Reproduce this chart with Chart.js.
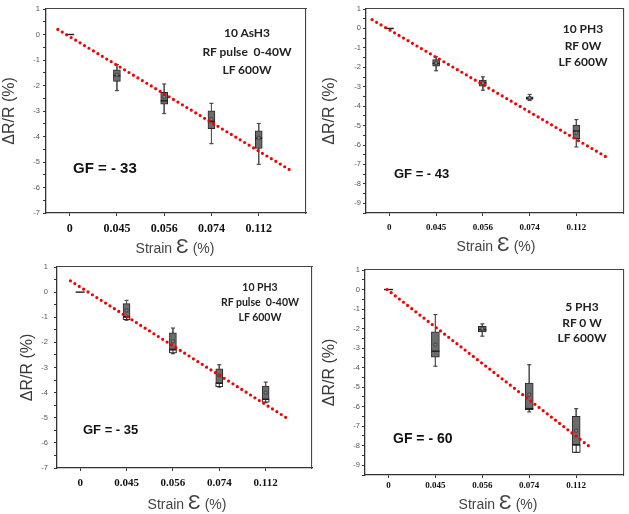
<!DOCTYPE html>
<html>
<head>
<meta charset="utf-8">
<script src="https://cdn.jsdelivr.net/npm/chart.js@4.4.1/dist/chart.umd.min.js"></script>
<style>
  body { margin: 0; background: #fff; }
  #fig { position: relative; width: 629px; height: 514px; overflow: hidden; }
  #fig canvas { position: absolute; }
  .note { position: absolute; font-family: Lato, 'Open Sans', sans-serif; font-weight: 700; color: #222; text-align: center; white-space: nowrap; transform: translateX(-50%); }
  .gf { position: absolute; font-family: 'Liberation Sans', Arial, sans-serif; font-weight: 700; color: #111; white-space: nowrap; transform: translateY(-50%); }
  .xt { position: absolute; font-family: 'Liberation Sans', Arial, sans-serif; font-size: 14px; color: #444; white-space: nowrap; transform: translate(-50%, -50%); }
  .xt span { font-size: 21px; }
</style>
</head>
<body>
<div id="fig">
  <canvas id="c1" width="320" height="255" style="left:0;top:0"></canvas>
  <canvas id="c2" width="309" height="255" style="left:320px;top:0"></canvas>
  <canvas id="c3" width="320" height="259" style="left:0;top:255px"></canvas>
  <canvas id="c4" width="309" height="259" style="left:320px;top:255px"></canvas>

  <div class="note" style="left:247px;top:24px;font-size:12px;line-height:18.5px">10 AsH3<br>RF pulse&nbsp; 0-40W<br>LF 600W</div>
  <div class="note" style="left:583px;top:21px;font-size:12px;line-height:16.5px">10 PH3<br>RF 0W<br>LF 600W</div>
  <div class="note" style="left:260px;top:280px;font-size:10.5px;line-height:15px">10 PH3<br>RF pulse&nbsp; 0-40W<br>LF 600W</div>
  <div class="note" style="left:582px;top:299px;font-size:12px;line-height:15.5px">5 PH3<br>RF 0 W<br>LF 600W</div>

  <div class="gf" style="left:73px;top:167px;font-size:15px">GF = - 33</div>
  <div class="gf" style="left:394px;top:173px;font-size:13px">GF = - 43</div>
  <div class="gf" style="left:83px;top:429px;font-size:13px">GF = - 35</div>
  <div class="gf" style="left:393px;top:438px;font-size:14px">GF = - 60</div>

  <div class="xt" style="left:175px;top:246px">Strain <span>Ɛ</span> (%)</div>
  <div class="xt" style="left:496px;top:244px">Strain <span>Ɛ</span> (%)</div>
  <div class="xt" style="left:187px;top:502px">Strain <span>Ɛ</span> (%)</div>
  <div class="xt" style="left:498px;top:502px">Strain <span>Ɛ</span> (%)</div>
</div>
<script>
// categories shared by all four panels
var strainLabels = ['0', '0.045', '0.056', '0.074', '0.112'];
var strainPos = [0, 1, 2, 3, 4];

var yTicksSeven = [1, 0, -1, -2, -3, -4, -5, -6, -7];
var yTicksNine = [1, 0, -1, -2, -3, -4, -5, -6, -7, -8, -9];

// 10 AsH3, RF pulse 0-40W
var ashWhiskHi = [0, -1.18, -1.94, -2.70, -3.49];
var ashBoxHi   = [0, -1.39, -2.27, -2.99, -3.78];
var ashMedian  = [0, -1.61, -2.60, -3.41, -4.07];
var ashMean    = [null, -1.58, -2.45, -3.32, -4.05];
var ashBoxLo   = [0, -1.84, -2.73, -3.69, -4.47];
var ashWhiskLo = [0, -2.20, -3.10, -4.28, -5.09];
var ashFitX = [-0.25, 4.65];
var ashFitY = [0.2, -5.3];

// 10 PH3, RF 0W
var ph0WhiskHi = [0, -1.46, -2.49, -3.40, -4.69];
var ph0BoxHi   = [0, -1.60, -2.66, -3.52, -4.98];
var ph0Median  = [0, -1.80, -2.80, -3.60, -5.28];
var ph0Mean    = [null, -1.78, -2.82, -3.58, -5.38];
var ph0BoxLo   = [0, -1.94, -2.97, -3.66, -5.67];
var ph0WhiskLo = [0, -2.18, -3.18, -3.71, -6.10];
var ph0FitX = [-0.37, 4.63];
var ph0FitY = [0.45, -6.6];

// 10 PH3, RF pulse 0-40W
var phpWhiskHi = [0, -0.33, -1.43, -2.89, -3.58];
var phpBoxHi   = [0, -0.46, -1.62, -3.05, -3.74];
var phpMedian  = [0, -0.98, -2.28, -3.62, -4.26];
var phpMean    = [null, -0.73, -1.96, -3.32, -4.00];
var phpLowTop  = [null, -0.99, -2.30, -3.63, -4.27];
var phpBoxLo   = [0, -1.10, -2.42, -3.76, -4.38];
var phpWhiskLo = [0, -1.12, -2.45, -3.78, -4.40];
var phpFitX = [-0.21, 4.49];
var phpFitY = [0.45, -5.05];

// 5 PH3, RF 0 W
var ph5WhiskHi = [0, -1.28, -1.76, -3.85, -6.10];
var ph5BoxHi   = [0, -2.17, -1.88, -4.79, -6.50];
var ph5Median  = [0, -3.16, -2.05, -6.10, -7.95];
var ph5Mean    = [null, -2.82, -2.00, -5.38, -7.23];
var ph5LowTop  = [null, null, null, null, -7.95];
var ph5BoxLo   = [0, -3.47, -2.17, -6.15, -8.34];
var ph5WhiskLo = [0, -3.93, -2.39, -6.27, -8.34];
var ph5FitX = [-0.03, 4.34];
var ph5FitY = [0.0, -8.15];

var panels = [
    { id: 'c1', whiskHi: ashWhiskHi, boxHi: ashBoxHi, median: ashMedian, mean: ashMean, lowTop: null, boxLo: ashBoxLo, whiskLo: ashWhiskLo,
      fitX: ashFitX, fitY: ashFitY, yMin: -7, yTicks: yTicksSeven,
      padTop: 9, padRight: 14, yW: 46, xH: 42, boxW: 7, xFont: 12, xPad: 6, yPad: 3, titlePad: 0 },
    { id: 'c2', whiskHi: ph0WhiskHi, boxHi: ph0BoxHi, median: ph0Median, mean: ph0Mean, lowTop: null, boxLo: ph0BoxLo, whiskLo: ph0WhiskLo,
      fitX: ph0FitX, fitY: ph0FitY, yMin: -9.5, yTicks: yTicksNine,
      padTop: 9, padRight: 5, yW: 46, xH: 42, boxW: 7, xFont: 9, xPad: 6, yPad: 2, titlePad: 0 },
    { id: 'c3', whiskHi: phpWhiskHi, boxHi: phpBoxHi, median: phpMedian, mean: phpMean, lowTop: phpLowTop, boxLo: phpBoxLo, whiskLo: phpWhiskLo,
      fitX: phpFitX, fitY: phpFitY, yMin: -7, yTicks: yTicksSeven,
      padTop: 12, padRight: 8, yW: 57, xH: 46, boxW: 7, xFont: 11, xPad: 6, yPad: 6, titlePad: 18 },
    { id: 'c4', whiskHi: ph5WhiskHi, boxHi: ph5BoxHi, median: ph5Median, mean: ph5Mean, lowTop: ph5LowTop, boxLo: ph5BoxLo, whiskLo: ph5WhiskLo,
      fitX: ph5FitX, fitY: ph5FitY, yMin: -9.5, yTicks: yTicksNine,
      padTop: 15, padRight: 2, yW: 45, xH: 39, boxW: 8, xFont: 9, xPad: 2, yPad: 2, titlePad: 0 }
];

function whiskerData(hi, lo) {
    var out = [];
    strainPos.forEach(function(x, i) {
        if (hi[i] === lo[i]) return;
        out.push({ x: x, y: hi[i] }, { x: x, y: lo[i] }, { x: x, y: null });
    });
    return out;
}

function capData(hi, lo) {
    var out = [];
    strainPos.forEach(function(x, i) {
        if (hi[i] === lo[i]) return;
        out.push({ x: x, y: hi[i] }, { x: x, y: lo[i] });
    });
    return out;
}

function rangeData(hi, lo) {
    var out = [];
    strainPos.forEach(function(x, i) {
        if (hi[i] == null || lo[i] == null || hi[i] === lo[i]) return;
        out.push({ x: x, y: [hi[i], lo[i]] });
    });
    return out;
}

function pointData(vals) {
    var out = [];
    strainPos.forEach(function(x, i) {
        if (vals[i] != null) out.push({ x: x, y: vals[i] });
    });
    return out;
}

function dividerData(hi, lo) {
    var out = [];
    strainPos.forEach(function(x, i) {
        if (hi[i] == null) return;
        out.push({ x: x, y: (hi[i] + lo[i]) / 2, top: hi[i], bottom: lo[i] });
    });
    return out;
}

// frame edge (top / right) drawn as an extra axis with only its border
function frameAxis(pos) {
    return {
        type: 'linear', position: pos, display: true, offset: false,
        afterFit: function(axis) { if (pos === 'top') axis.height = 0; else axis.width = 0; },
        grid: { display: true, drawOnChartArea: false, drawTicks: false, color: 'rgba(0,0,0,0)' },
        ticks: { display: false },
        border: { display: true, color: '#444', width: 1.1 }
    };
}

function render(p) {
    var datasets = [
        { type: 'line', data: [{ x: p.fitX[0], y: p.fitY[0] }, { x: p.fitX[1], y: p.fitY[1] }],
          borderColor: 'rgb(245,0,0)', borderWidth: 3.2, borderDash: [0, 5.2], borderCapStyle: 'round', pointRadius: 0, order: 0 },
        { type: 'line', data: pointData(p.mean), showLine: false, pointStyle: 'rect', pointRadius: 2,
          borderColor: '#3a3a3a', backgroundColor: '#8c8c8c', borderWidth: 0.8, order: 1 },
        { type: 'line', data: pointData(p.median), showLine: false, pointStyle: 'line',
          pointRadius: function(ctx) { return ctx.raw && ctx.raw.x === 0 ? 4.5 : p.boxW / 2; },
          borderColor: '#1e1e1e', borderWidth: 1.4, order: 1 },
        { type: 'bar', data: rangeData(p.boxHi, p.boxLo), backgroundColor: '#6c6c6c', borderColor: '#2a2a2a',
          borderWidth: 1, borderSkipped: false, barThickness: p.boxW, grouped: false, order: 3 },
        { type: 'line', data: capData(p.whiskHi, p.whiskLo), showLine: false, pointStyle: 'line', pointRadius: 2,
          borderColor: '#4a4a4a', borderWidth: 1.2, order: 4 },
        { type: 'line', data: whiskerData(p.whiskHi, p.whiskLo), borderColor: '#555', borderWidth: 1,
          pointRadius: 0, spanGaps: false, order: 5 }
    ];
    if (p.lowTop) {
        datasets.push({ type: 'bar', data: rangeData(p.lowTop, p.boxLo), backgroundColor: '#fff', borderColor: '#2a2a2a',
            borderWidth: 1, borderSkipped: false, barThickness: p.boxW, grouped: false, order: 2 });
        datasets.push({ type: 'line', data: dividerData(p.lowTop, p.boxLo), showLine: false, pointStyle: 'line', pointRotation: 90,
            pointRadius: function(ctx) {
                var r = ctx.raw, ys = ctx.chart.scales.y;
                if (!r || !ys) return 0;
                return Math.abs(ys.getPixelForValue(r.top) - ys.getPixelForValue(r.bottom)) / 2;
            },
            borderColor: '#2a2a2a', borderWidth: 1, order: 1 });
    }

    new Chart(document.getElementById(p.id), {
        type: 'line',
        data: { datasets: datasets },
        options: {
            responsive: false, maintainAspectRatio: false, animation: false, events: [],
            layout: { padding: { top: p.padTop, right: p.padRight, left: 0, bottom: 0 } },
            plugins: { legend: { display: false }, tooltip: { enabled: false } },
            scales: {
                x: {
                    type: 'linear', position: 'bottom', min: -0.5, max: 5, offset: false,
                    afterFit: function(axis) { axis.height = p.xH; },
                    afterBuildTicks: function(axis) { axis.ticks = strainPos.map(function(v) { return { value: v }; }); },
                    grid: { drawOnChartArea: false, drawTicks: true, tickLength: 3, color: '#333', offset: false },
                    border: { display: true, color: '#333', width: 1.3 },
                    ticks: {
                        autoSkip: false, maxRotation: 0, padding: p.xPad, color: '#111',
                        font: { family: "'Liberation Serif', 'Times New Roman', serif", weight: 'bold', size: p.xFont },
                        callback: function(v) { var i = strainPos.indexOf(v); return i < 0 ? '' : strainLabels[i]; }
                    }
                },
                x2: frameAxis('top'),
                y: {
                    type: 'linear', position: 'left', min: p.yMin, max: 1,
                    afterFit: function(axis) { axis.width = p.yW; },
                    afterBuildTicks: function(axis) {
                        var out = [];
                        p.yTicks.forEach(function(v) {
                            out.push({ value: v });
                            if (v - 0.5 >= p.yMin) out.push({ value: v - 0.5 });
                        });
                        axis.ticks = out;
                    },
                    grid: { drawOnChartArea: false, drawTicks: true, tickLength: 3, color: '#333' },
                    border: { display: true, color: '#333', width: 1.3 },
                    ticks: {
                        autoSkip: false, padding: p.yPad, color: '#555',
                        font: { family: "'Liberation Sans', Arial, sans-serif", size: 7.5 },
                        callback: function(v) { return Number.isInteger(v) ? String(v) : ''; }
                    },
                    title: {
                        display: true, text: 'ΔR/R (%)', color: '#3a3a3a',
                        padding: { top: p.titlePad, bottom: 0 },
                        font: { family: "'Liberation Sans', Arial, sans-serif", size: 16 }
                    }
                },
                y2: frameAxis('right')
            }
        }
    });
}

panels.forEach(render);
</script>
</body>
</html>
